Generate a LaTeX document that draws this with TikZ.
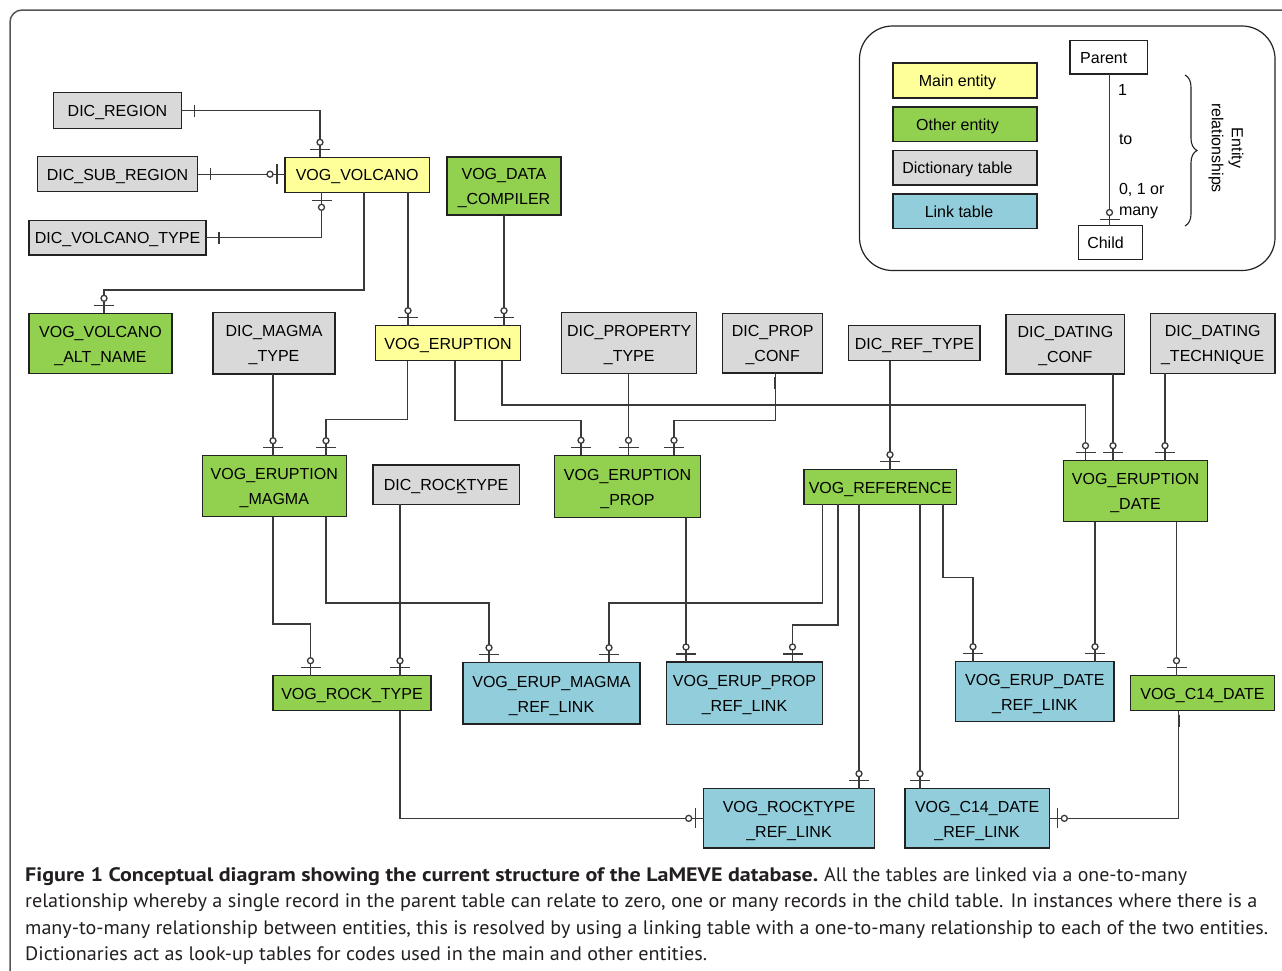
\documentclass[tikz,border=0pt]{standalone}
\usepackage{fontspec}
\usepackage{graphicx}
\setmainfont{Liberation Sans}
\newfontfamily\capfont{PT Sans}
\usetikzlibrary{calc,decorations.pathreplacing}
\definecolor{cyel}{HTML}{FFFF99}
\definecolor{cgrn}{HTML}{92D050}
\definecolor{cgry}{HTML}{D9D9D9}
\definecolor{cblu}{HTML}{92CDDC}
\definecolor{bord}{HTML}{222222}
\definecolor{lin}{HTML}{3A3A3A}
\definecolor{framec}{HTML}{555555}
\definecolor{captxt}{HTML}{231F20}
% name, x1, y1, x2, y2, fill, text
\newcommand\ebox[7]{\node[ebx,fill=#6,minimum width={(#4)-(#2)},minimum height={(#5)-(#3)}] (#1) at (#2,#3) {\rule[-3.5pt]{0pt}{19pt}#7};}
% child marks
\newcommand\ctop[1]{\draw[conn] ($(#1)+(-10,-8)$) -- ++(20,0); \draw[conn,fill=white] ($(#1)+(0,-15)$) circle[radius=3pt];}
\newcommand\cbot[1]{\draw[conn] ($(#1)+(-10,8)$) -- ++(20,0); \draw[conn,fill=white] ($(#1)+(0,15)$) circle[radius=3pt];}
\newcommand\cleftm[1]{\draw[conn] ($(#1)+(-8,-10)$) -- ++(0,20); \draw[conn,fill=white] ($(#1)+(-15,0)$) circle[radius=3pt];}
\newcommand\crightm[1]{\draw[conn] ($(#1)+(8,-10)$) -- ++(0,20); \draw[conn,fill=white] ($(#1)+(15,0)$) circle[radius=3pt];}
% parent marks
\newcommand\pdown[1]{\draw[lin,line width=1.8pt] ($(#1)+(0,4)$) -- ++(0,12);}
\newcommand\pright[1]{\draw[conn] ($(#1)+(13,-6)$) -- ++(0,12);}
\newcommand\caplinebox[2]{\resizebox{#1}{\height}{\capfont\fontsize{19.5}{24}\selectfont #2}}
\begin{document}
\begin{tikzpicture}[x=1pt,y=-1pt,
  ebx/.style={draw=bord,line width=1.2pt,inner sep=0pt,outer sep=0pt,anchor=north west,align=center,font=\fontsize{16}{25}\selectfont},
  conn/.style={draw=lin,line width=1.3pt},
  plain/.style={inner sep=0pt,outer sep=0pt,font=\fontsize{16}{20}\selectfont},
  capl/.style={anchor=base west,inner sep=0pt,text=captxt}]
\useasboundingbox (0,0) rectangle (1282,970);
\fill[white] (0,0) rectangle (1282,970);
% outer frame
\draw[framec,line width=1.5pt,rounded corners=12pt] (10,990) -- (10,10) -- (1300,10);

% legend
\draw[bord,line width=1.2pt,rounded corners=33pt] (859.5,26) rectangle (1275,270.5);
\ebox{lmain}{893}{63}{1037}{98}{cyel}{Main entity\hspace*{15pt}}
\ebox{lother}{893}{107}{1037}{141.5}{cgrn}{Other entity\hspace*{15pt}}
\ebox{ldict}{893}{150.5}{1037}{185}{cgry}{Dictionary table\hspace*{15pt}}
\ebox{llink}{893}{194}{1037}{228.5}{cblu}{Link table\hspace*{12pt}}
\ebox{parent}{1070}{40.5}{1147.5}{74}{white}{Parent\hspace*{10pt}}
\ebox{child}{1078.5}{225.5}{1142.5}{259.5}{white}{Child\hspace*{10pt}}
\draw[conn] (parent.south -| 1109.5,0) -- (child.north -| 1109.5,0) coordinate (t);
\pdown{parent.south -| 1109.5,0}
\draw[conn] ($(t)+(-10,-6)$) -- ++(20,0); \draw[conn,fill=white] ($(t)+(0,-13)$) circle[radius=3pt];
\node[plain,anchor=west] (l1) at (1118,90) {1};
\node[plain,anchor=west] (lto) at (1119,139) {to};
\node[plain,anchor=west] (l01) at (1119,190) {0, 1 or};
\node[plain,anchor=west] (lmany) at (1119,213) {many};
\draw[bord,line width=1.1pt,decorate,decoration={brace,amplitude=12pt}] (1185,75) -- (1185,226);
\node[plain,rotate=-90,align=center,font=\fontsize{16}{20}\selectfont] (erel) at (1226,148) {Entity\\relationships};

% entities
\ebox{reg}{53.7}{92.7}{181.3}{128.3}{cgry}{DIC\_REGION}
\ebox{subreg}{37.3}{156.7}{197.7}{191.7}{cgry}{DIC\_SUB\_REGION}
\ebox{volc}{285}{157.3}{429.3}{192.3}{cyel}{VOG\_VOLCANO}
\ebox{vtype}{29}{220.3}{206}{255}{cgry}{DIC\_VOLCANO\_TYPE}
\ebox{comp}{447}{157}{561}{215}{cgrn}{VOG\_DATA\\\_COMPILER}
\ebox{alt}{29}{313.3}{172}{373.5}{cgrn}{VOG\_VOLCANO\\\_ALT\_NAME}
\ebox{magt}{213}{312.5}{335}{374}{cgry}{DIC\_MAGMA\\\_TYPE}
\ebox{erup}{375.7}{325.7}{520.3}{360.7}{cyel}{VOG\_ERUPTION}
\ebox{propt}{561.7}{312.7}{696.7}{373.7}{cgry}{DIC\_PROPERTY\\\_TYPE}
\ebox{pconf}{722.7}{313.3}{822.7}{373}{cgry}{DIC\_PROP\\\_CONF}
\ebox{reft}{848.7}{325.7}{980}{360.7}{cgry}{DIC\_REF\_TYPE}
\ebox{dconf}{1006}{314.3}{1124.7}{374}{cgry}{DIC\_DATING\\\_CONF}
\ebox{dtech}{1150.3}{313.3}{1275}{373.3}{cgry}{DIC\_DATING\\\_TECHNIQUE}
\ebox{emag}{202.3}{455.7}{346.3}{516.7}{cgrn}{VOG\_ERUPTION\\\_MAGMA}
\ebox{rockt}{373}{465}{519.3}{504.3}{cgry}{DIC\_ROCK\llap{\_}TYPE}
\ebox{eprop}{554.7}{455.3}{700.3}{517.7}{cgrn}{VOG\_ERUPTION\\\_PROP}
\ebox{ref}{804}{469.7}{956.7}{504.3}{cgrn}{VOG\_REFERENCE}
\ebox{edate}{1063.3}{460.7}{1207.7}{521.7}{cgrn}{VOG\_ERUPTION\\\_DATE}
\ebox{vrock}{273}{675.7}{431}{710.7}{cgrn}{VOG\_ROCK\_TYPE}
\ebox{emlink}{463}{662.7}{640}{724}{cblu}{VOG\_ERUP\_MAGMA\\\_REF\_LINK}
\ebox{eplink}{666.3}{662}{822.7}{724.3}{cblu}{VOG\_ERUP\_PROP\\\_REF\_LINK}
\ebox{edlink}{955.7}{661.7}{1114}{721.7}{cblu}{VOG\_ERUP\_DATE\\\_REF\_LINK}
\ebox{c14}{1130.3}{675.7}{1274.7}{710.7}{cgrn}{VOG\_C14\_DATE}
\ebox{rtlink}{703.7}{788.7}{874.3}{848}{cblu}{VOG\_ROCK\llap{\_}TYPE\\\_REF\_LINK}
\ebox{c14link}{905}{788.7}{1049.3}{848}{cblu}{VOG\_C14\_DATE\\\_REF\_LINK}

% connectors
\draw[conn] (reg.east) -| (volc.north -| 320,0) coordinate (t); \pright{reg.east} \ctop{t}
\draw[conn] (subreg.east) -- (subreg.east -| volc.west) coordinate (t); \pright{subreg.east} \cleftm{t}
\draw[conn] (vtype.east) -| (volc.south -| 321.5,0) coordinate (t); \pright{vtype.east} \cbot{t}
\draw[conn] (volc.south -| 364,0) |- (104,290) -- (alt.north -| 104,0) coordinate (t); \pdown{volc.south -| 364,0} \ctop{t}
\draw[conn] (volc.south -| 408,0) -- (erup.north -| 408,0) coordinate (t); \pdown{volc.south -| 408,0} \ctop{t}
\draw[conn] (comp.south -| 504,0) -- (erup.north -| 504,0) coordinate (t); \pdown{comp.south -| 504,0} \ctop{t}
\draw[conn] (magt.south -| 273,0) -- (emag.north -| 273,0) coordinate (t); \pdown{magt.south -| 273,0} \ctop{t}
\draw[conn] (erup.south -| 407.5,0) |- (326,419.5) -- (emag.north -| 326,0) coordinate (t); \pdown{erup.south -| 407.5,0} \ctop{t}
\draw[conn] (erup.south -| 455,0) |- (581,420.5) -- (eprop.north -| 581,0) coordinate (t); \pdown{erup.south -| 455,0} \ctop{t}
\draw[conn] (erup.south -| 502,0) |- (1085.5,405) -- (edate.north -| 1085.5,0) coordinate (t); \pdown{erup.south -| 502,0} \ctop{t}
\draw[conn] (propt.south -| 628.5,0) -- (eprop.north -| 628.5,0) coordinate (t); \pdown{propt.south -| 628.5,0} \ctop{t}
\draw[conn] (pconf.south -| 775.3,0) |- (674,420.5) -- (eprop.north -| 674,0) coordinate (t); \pdown{pconf.south -| 775.3,0} \ctop{t}
\draw[conn] (reft.south -| 890,0) -- (ref.north -| 890,0) coordinate (t); \pdown{reft.south -| 890,0} \ctop{t}
\draw[conn] (dconf.south -| 1113,0) -- (edate.north -| 1113,0) coordinate (t); \pdown{dconf.south -| 1113,0} \ctop{t}
\draw[conn] (dtech.south -| 1165,0) -- (edate.north -| 1165,0) coordinate (t); \pdown{dtech.south -| 1165,0} \ctop{t}
\draw[conn] (emag.south -| 273,0) |- (310.5,624) -- (vrock.north -| 310.5,0) coordinate (t); \pdown{emag.south -| 273,0} \ctop{t}
\draw[conn] (emag.south -| 326,0) |- (489,603) -- (emlink.north -| 489,0) coordinate (t); \pdown{emag.south -| 326,0} \ctop{t}
\draw[conn] (rockt.south -| 400,0) -- (vrock.north -| 400,0) coordinate (t); \pdown{rockt.south -| 400,0} \ctop{t}
\draw[conn] (ref.south -| 822.5,0) |- (609,603) -- (emlink.north -| 609,0) coordinate (t); \pdown{ref.south -| 822.5,0} \ctop{t}
\draw[conn] (eprop.south -| 686,0) -- (eplink.north -| 686,0) coordinate (t); \pdown{eprop.south -| 686,0} \ctop{t}
\draw[conn] (ref.south -| 838,0) |- (792.5,625) -- (eplink.north -| 792.5,0) coordinate (t); \pdown{ref.south -| 838,0} \ctop{t}
\draw[conn] (ref.south -| 859,0) -- (rtlink.north -| 859,0) coordinate (t); \pdown{ref.south -| 859,0} \ctop{t}
\draw[conn] (ref.south -| 920,0) -- (c14link.north -| 920,0) coordinate (t); \pdown{ref.south -| 920,0} \ctop{t}
\draw[conn] (ref.south -| 943,0) |- (973,577.5) -- (edlink.north -| 973,0) coordinate (t); \pdown{ref.south -| 943,0} \ctop{t}
\draw[conn] (edate.south -| 1095,0) -- (edlink.north -| 1095,0) coordinate (t); \pdown{edate.south -| 1095,0} \ctop{t}
\draw[conn] (edate.south -| 1176.5,0) -- (c14.north -| 1176.5,0) coordinate (t); \pdown{edate.south -| 1176.5,0} \ctop{t}
\draw[conn] (vrock.south -| 400,0) |- (rtlink.west) coordinate (t); \pdown{vrock.south -| 400,0} \cleftm{t}
\draw[conn] (c14.south -| 1178.7,0) |- (c14link.east) coordinate (t); \pdown{c14.south -| 1178.7,0} \crightm{t}

% caption
\node[capl] (cap1a) at (25,881) {\caplinebox{793pt}{\textbf{Figure 1 Conceptual diagram showing the current structure of the LaMEVE database.}}};
\node[capl] (cap1b) at (824,881) {\caplinebox{363pt}{All the tables are linked via a one-to-many}};
\node[capl] (cap2) at (25,907.5) {\caplinebox{1232pt}{relationship whereby a single record in the parent table can relate to zero, one or many records in the child table. In instances where there is a}};
\node[capl] (cap3) at (25,934) {\caplinebox{1243pt}{many-to-many relationship between entities, this is resolved by using a linking table with a one-to-many relationship to each of the two entities.}};
\node[capl] (cap4) at (25,960.5) {\caplinebox{682pt}{Dictionaries act as look-up tables for codes used in the main and other entities.}};
\end{tikzpicture}
\end{document}
